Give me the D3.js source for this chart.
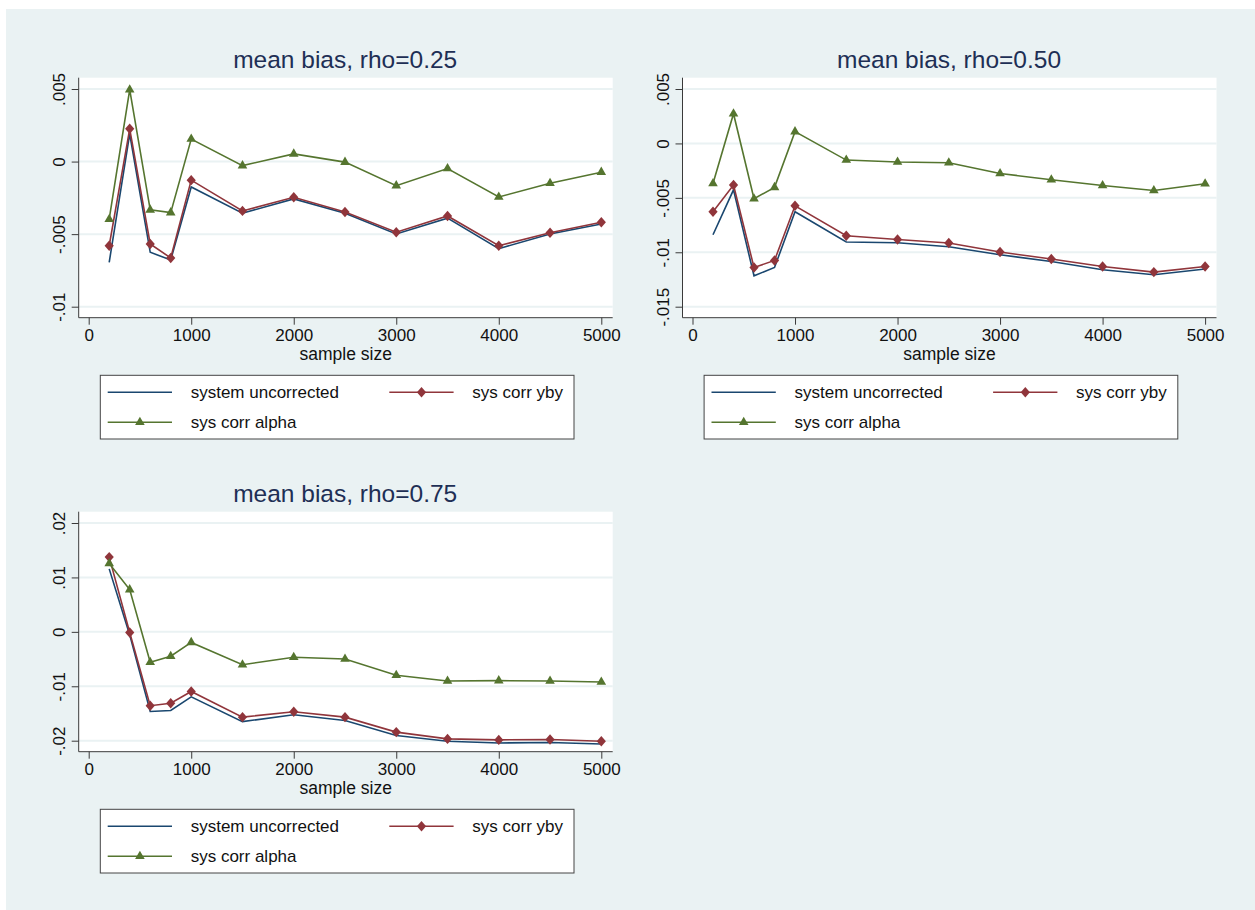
<!DOCTYPE html>
<html>
<head>
<meta charset="utf-8">
<script src="https://cdn.jsdelivr.net/npm/d3@7"></script>
<style>
  html, body { margin: 0; padding: 0; background: #ffffff; }
  svg { display: block; font-family: "Liberation Sans", Arial, sans-serif; }
</style>
</head>
<body>
<svg id="chart" width="1255" height="910"></svg>
<script>
// ---------------- data ----------------
const sampleSizes = [200, 400, 600, 800, 1000, 1500, 2000, 2500, 3000, 3500, 4000, 4500, 5000];

const uncorr025 = [-0.00694, 0.0019, -0.00625, -0.00678, -0.00175, -0.00356, -0.00257, -0.00356, -0.00499, -0.0039, -0.0060, -0.00499, -0.0043];
const yby025    = [-0.0058, 0.00226, -0.00568, -0.00664, -0.00128, -0.0034, -0.00246, -0.00347, -0.00487, -0.00375, -0.0058, -0.0049, -0.00418];
const alpha025  = [-0.00397, 0.00495, -0.00333, -0.00352, 0.00155, -0.00028, 0.00053, -0.00004, -0.00166, -0.00048, -0.00244, -0.00149, -0.00073];

const uncorr050 = [-0.00839, -0.00426, -0.01216, -0.0114, -0.00628, -0.00906, -0.00912, -0.00949, -0.01023, -0.01084, -0.0116, -0.01207, -0.01154];
const yby050    = [-0.00628, -0.00382, -0.0114, -0.01075, -0.00573, -0.00848, -0.00882, -0.00915, -0.00998, -0.01062, -0.0113, -0.01182, -0.0113];
const alpha050  = [-0.00368, 0.00273, -0.00508, -0.00404, 0.00108, -0.00153, -0.00171, -0.00177, -0.00276, -0.00334, -0.00386, -0.00432, -0.0037];

const uncorr075 = [0.01157, -0.00056, -0.01463, -0.01444, -0.01194, -0.01649, -0.01524, -0.0163, -0.01903, -0.0201, -0.02041, -0.02034, -0.0206];
const yby075    = [0.01373, -0.00013, -0.01357, -0.01313, -0.01095, -0.01567, -0.01468, -0.01567, -0.01842, -0.01967, -0.01985, -0.01978, -0.0201];
const alpha075  = [0.01256, 0.00776, -0.0056, -0.00448, -0.00194, -0.00604, -0.00467, -0.00498, -0.00797, -0.00903, -0.00896, -0.00903, -0.00922];

const xTicks = [0, 1000, 2000, 3000, 4000, 5000];
const xTickLabels = ["0", "1000", "2000", "3000", "4000", "5000"];

const yTicks025 = [-0.01, -0.005, 0, 0.005];
const yTickLabels025 = ["-.01", "-.005", "0", ".005"];
const yTicks050 = [-0.015, -0.01, -0.005, 0, 0.005];
const yTickLabels050 = ["-.015", "-.01", "-.005", "0", ".005"];
const yTicks075 = [-0.02, -0.01, 0, 0.01, 0.02];
const yTickLabels075 = ["-.02", "-.01", "0", ".01", ".02"];

const titles = ["mean bias, rho=0.25", "mean bias, rho=0.50", "mean bias, rho=0.75"];
const seriesNames = ["system uncorrected", "sys corr yby", "sys corr alpha"];
const xAxisTitle = "sample size";

// ---------------- styling ----------------
const colors = ["#1a476f", "#90353b", "#55752f"];
const markers = [null, "diamond", "triangle"];
const bg = "#eaf2f3";

const panels = [
  { title: titles[0], series: [uncorr025, yby025, alpha025], yTicks: yTicks025, yLabels: yTickLabels025,
    yDomain: [-0.01, 0.005], left: 78.7, top: 77.7 },
  { title: titles[1], series: [uncorr050, yby050, alpha050], yTicks: yTicks050, yLabels: yTickLabels050,
    yDomain: [-0.015, 0.005], left: 682.5, top: 77.7 },
  { title: titles[2], series: [uncorr075, yby075, alpha075], yTicks: yTicks075, yLabels: yTickLabels075,
    yDomain: [-0.02, 0.02], left: 78.7, top: 511.7 }
];

const PW = 534, PH = 240;

const svg = d3.select("#chart");
svg.append("rect").attr("x", 6).attr("y", 9).attr("width", 1249).attr("height", 901).attr("fill", bg);

function markerPath(type) {
  if (type === "diamond") {
    return "M0,-5.2L4.6,0L0,5.2L-4.6,0Z";
  }
  if (type === "triangle") {
    return d3.symbol().type(d3.symbolTriangle).size(40)();
  }
  return null;
}

panels.forEach(p => {
  const g = svg.append("g").attr("transform", `translate(${p.left},${p.top})`);
  const x = d3.scaleLinear().domain([0, 5000]).range([10, PW - 11.4]);
  const y = d3.scaleLinear().domain(p.yDomain).range([PH - 11, 11.3]);

  // plot region
  g.append("rect").attr("x", 0).attr("y", 0).attr("width", PW).attr("height", PH).attr("fill", "#ffffff");

  // gridlines
  g.selectAll(".grid").data(p.yTicks).enter().append("line")
    .attr("x1", 0).attr("x2", PW)
    .attr("y1", d => y(d)).attr("y2", d => y(d))
    .attr("stroke", bg).attr("stroke-width", 2);

  // axes
  const yAxis = d3.axisLeft(y).tickValues(p.yTicks).tickSize(7).tickPadding(6)
    .tickFormat((d, i) => p.yLabels[i]);
  const yg = g.append("g").call(yAxis);
  yg.select(".domain").attr("stroke", "#3a3a3a").attr("d", `M0,0V${PH}`);
  yg.selectAll(".tick line").attr("stroke", "#3a3a3a");
  yg.selectAll(".tick text")
    .attr("x", null).attr("dy", null)
    .attr("transform", "translate(-13.5,0) rotate(-90)")
    .attr("text-anchor", "middle")
    .attr("font-size", 17).attr("fill", "#111");

  const xAxis = d3.axisBottom(x).tickValues(xTicks).tickSize(7).tickPadding(5)
    .tickFormat((d, i) => xTickLabels[i]);
  const xg = g.append("g").attr("transform", `translate(0,${PH})`).call(xAxis);
  xg.select(".domain").attr("stroke", "#3a3a3a").attr("d", `M0,0H${PW}`);
  xg.selectAll(".tick line").attr("stroke", "#3a3a3a");
  xg.selectAll(".tick text").attr("y", 23).attr("dy", null)
    .attr("font-size", 17).attr("fill", "#111");
  svg.selectAll("text").attr("font-family", "Liberation Sans, Arial, sans-serif");

  // axis title
  g.append("text").attr("x", 267).attr("y", PH + 42.5)
    .attr("text-anchor", "middle").attr("font-size", 17.5).attr("fill", "#111")
    .text(xAxisTitle);

  // title
  g.append("text").attr("x", 266.5).attr("y", -9.5)
    .attr("text-anchor", "middle").attr("font-size", 24.5).attr("fill", "#1e2f55")
    .text(p.title);

  // series
  const line = d3.line().x((d, i) => x(sampleSizes[i])).y(d => y(d));
  p.series.forEach((vals, si) => {
    g.append("path").datum(vals).attr("d", line)
      .attr("fill", "none").attr("stroke", colors[si]).attr("stroke-width", 1.6)
      .attr("stroke-linejoin", "miter");
    if (markers[si]) {
      g.selectAll(null).data(vals).enter().append("path")
        .attr("d", markerPath(markers[si]))
        .attr("transform", (d, i) => `translate(${x(sampleSizes[i])},${y(d)})`)
        .attr("fill", colors[si]);
    }
  });

  // legend
  const lg = g.append("g").attr("transform", `translate(21.6,${PH + 57.6})`);
  lg.append("rect").attr("x", 0).attr("y", 0).attr("width", 473.7).attr("height", 63.7)
    .attr("fill", "#ffffff").attr("stroke", "#444").attr("stroke-width", 1);
  const items = [
    { si: 0, lx: 7.4, ty: 17 },
    { si: 1, lx: 289, ty: 17 },
    { si: 2, lx: 7.4, ty: 47 }
  ];
  items.forEach(it => {
    lg.append("line").attr("x1", it.lx).attr("x2", it.lx + 64.3)
      .attr("y1", it.ty).attr("y2", it.ty)
      .attr("stroke", colors[it.si]).attr("stroke-width", 1.6);
    if (markers[it.si]) {
      lg.append("path").attr("d", markerPath(markers[it.si]))
        .attr("transform", `translate(${it.lx + 32.2},${it.ty})`)
        .attr("fill", colors[it.si]);
    }
    lg.append("text").attr("x", it.lx + 83).attr("y", it.ty + 6)
      .attr("font-size", 17).attr("fill", "#111")
      .text(seriesNames[it.si]);
  });
});
</script>
</body>
</html>
